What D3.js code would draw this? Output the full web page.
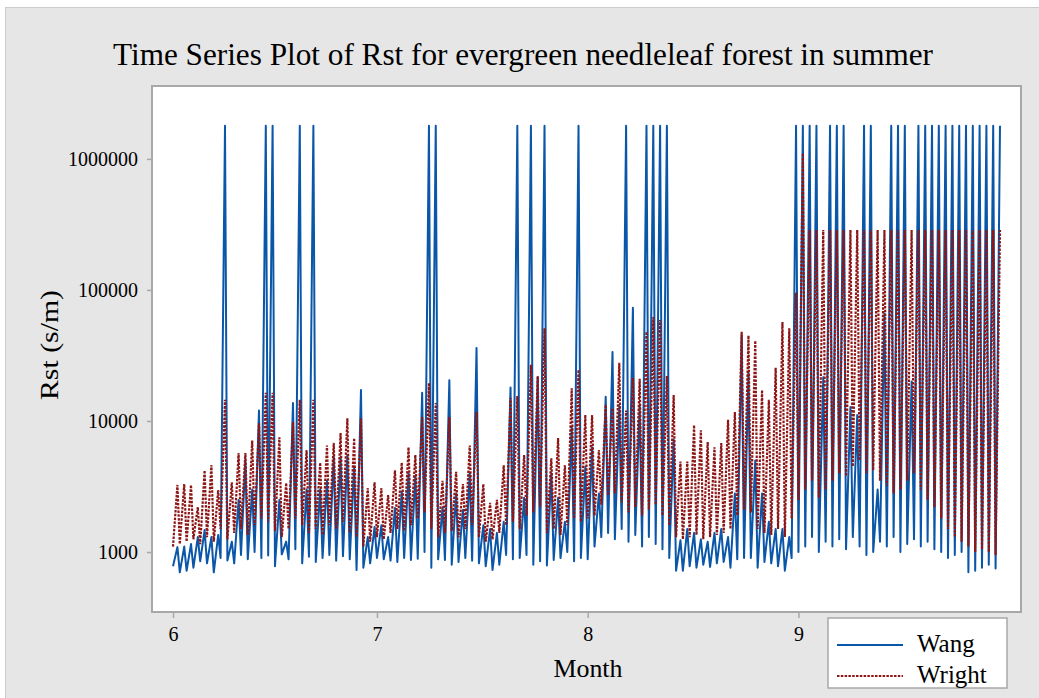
<!DOCTYPE html>
<html>
<head>
<meta charset="utf-8">
<script src="https://cdn.jsdelivr.net/npm/d3@7"></script>
<style>
  html, body { margin: 0; padding: 0; background: #ffffff; }
  svg { display: block; }
  text { font-family: "Liberation Serif", "Times New Roman", serif; fill: #000; }
</style>
</head>
<body>
<svg id="chart" width="1039" height="698"></svg>
<script>
// ---------------- data ----------------
const title = "Time Series Plot of Rst for evergreen needleleaf forest in summer";
const xLabel = "Month";
const yLabel = "Rst (s/m)";
const seriesNames = ["Wang", "Wright"];

// month boundaries in days since 1 June, and their labels
const monthTickDays = [0, 30, 61, 92];
const monthTickLabels = ["6", "7", "8", "9"];
const yTickValues = [1000, 10000, 100000, 1000000];

// one daytime minimum and one night-time maximum per day (122 days, Jun 1 – Sep 30)
const wangLow = [
  780, 700, 720, 760, 850, 820, 700, 900, 860, 820,
  950, 880, 1000, 900, 940, 780, 960, 880, 1050, 820,
  920, 840, 900, 950, 860, 930, 880, 730, 760, 820,
  900, 880, 860, 840, 900, 870, 890, 1000, 760, 880,
  870, 800, 840, 900, 860, 820, 780, 730, 800, 950,
  880, 900, 950, 800, 850, 790, 870, 900, 1000, 850,
  900, 880, 1100, 1300, 1400, 1250, 1500, 1200, 1350, 1100,
  1300, 1150, 1050, 900, 720, 720, 780, 760, 800, 770,
  820, 840, 760, 880, 900, 900, 760, 840, 820, 780,
  720, 900, 1000, 1100, 1300, 1000, 1200, 1100, 1250, 1050,
  1300, 1100, 950, 1000, 1200, 1100, 1300, 1000, 1150, 1250,
  1100, 1200, 1050, 1000, 900, 950, 1000, 700, 720, 760,
  800, 750
];
const wangPeak = [
  1090, 1100, 1150, 1300, 1470, 1300, 1350, 1790000, 1200, 2500,
  5000, 3000, 12000, 1790000, 1790000, 2500, 1200, 13700, 1790000, 3000,
  1790000, 3000, 3500, 5300, 5300, 5500, 4500, 17200, 1300, 1550,
  1600, 1300, 2170, 2900, 4000, 3800, 16400, 1790000, 1790000, 2200,
  20500, 2800, 2100, 4000, 36000, 1600, 1500, 1400, 1700, 18000,
  1790000, 2600, 1790000, 21600, 1790000, 4000, 2600, 1700, 9000, 1790000,
  4500, 6300, 2800, 15300, 33600, 13000, 1790000, 73000, 13000, 1790000,
  1790000, 1790000, 1790000, 7200, 1230, 1500, 1400, 1250, 1200, 1400,
  1500, 1300, 2800, 45000, 23300, 5000, 2800, 1700, 1500, 1500,
  1300, 1790000, 1790000, 1790000, 1790000, 21600, 1790000, 1790000, 1790000, 12800,
  11100, 1790000, 1790000, 3000, 66000, 1790000, 1790000, 1790000, 20000, 1790000,
  1790000, 1790000, 1790000, 1790000, 1790000, 1790000, 1790000, 1790000, 1790000, 1790000,
  1790000, 1790000
];
const wrightLow = [
  1100, 1150, 1200, 1250, 1150, 1300, 1200, 1500, 1250, 1400,
  1500, 1350, 1600, 1800, 1700, 1450, 1300, 1500, 1800, 1600,
  1400, 1500, 1350, 1600, 1500, 1700, 1400, 1300, 1100, 1200,
  1300, 1250, 1400, 1500, 1450, 1600, 1800, 2000, 1500, 1300,
  1400, 1450, 1300, 1500, 1600, 1300, 1200, 1250, 1400, 1600,
  1700, 1500, 1900, 2000, 2200, 1400, 1500, 1350, 1600, 1800,
  1700, 1800, 1900, 2300, 2700, 2800, 2400, 2000, 2200, 1900,
  2100, 2300, 1900, 1600, 1300, 1250, 1300, 1350, 1250, 1300,
  1350, 1400, 1500, 1900, 2100, 2000, 1500, 1400, 1350, 1500,
  1300, 1800, 2500, 3000, 3500, 2600, 3000, 3500, 4000, 3800,
  4500, 5000, 4000, 4200, 3500, 3200, 2800, 3000, 3500, 4000,
  3000, 2500, 2200, 1800, 1500, 1300, 1200, 1100, 1000, 1050,
  1000, 950
];
const wrightPeak = [
  3250, 3300, 3250, 2200, 4200, 4600, 2970, 14500, 3400, 5700,
  5700, 7100, 9600, 16400, 16400, 7500, 3360, 9800, 14500, 6000,
  14500, 4800, 6500, 6800, 8100, 10500, 7400, 10500, 3070, 3400,
  3070, 2720, 4200, 4800, 6300, 5500, 10700, 19500, 13700, 3500,
  10700, 4100, 3300, 6500, 11700, 3300, 2370, 2500, 4600, 15000,
  15500, 5500, 26800, 22000, 51000, 5200, 7400, 4600, 17800, 24500,
  11100, 11100, 6000, 13300, 12500, 27800, 12000, 21300, 21000, 48000,
  62000, 59000, 22000, 15800, 4900, 4900, 9300, 8500, 6900, 6300,
  6800, 10200, 11700, 48000, 45000, 41000, 17200, 14500, 25500, 57000,
  51000, 95000, 1100000, 287000, 287000, 287000, 287000, 287000, 287000, 287000,
  287000, 287000, 287000, 287000, 287000, 287000, 287000, 287000, 287000, 287000,
  287000, 287000, 287000, 287000, 287000, 287000, 287000, 287000, 287000, 287000,
  287000, 287000
];

// ---------------- layout ----------------
const W = 1039, H = 698;
const plot = { left: 152, top: 86, right: 1021, bottom: 612 };
const colors = { wang: "#0a56a8", wright: "#8e1616" };
const serif = "Liberation Serif, Times New Roman, serif";

const svg = d3.select("#chart");

// outer panel
svg.append("rect").attr("x", 5.5).attr("y", 7.5).attr("width", W).attr("height", H)
  .attr("fill", "#e6e6e6").attr("stroke", "#cbcbcb").attr("stroke-width", 1);

// plot area
svg.append("rect").attr("x", plot.left).attr("y", plot.top)
  .attr("width", plot.right - plot.left).attr("height", plot.bottom - plot.top)
  .attr("fill", "#ffffff");

// scales
const peakOffset = 0.65;
const x = d3.scaleLinear().domain([0, wangLow.length - 1 + peakOffset]).range([173, 1000]);
const y = d3.scaleLog().domain([348.6, 3.6e6]).range([plot.bottom, plot.top]);

function buildSeries(lows, peaks) {
  return lows.flatMap((lo, i) => [{ t: i, v: lo }, { t: i + peakOffset, v: peaks[i] }]);
}
const wangData = buildSeries(wangLow, wangPeak);
const wrightData = buildSeries(wrightLow, wrightPeak);

svg.append("clipPath").attr("id", "clip").append("rect")
  .attr("x", plot.left).attr("y", plot.top)
  .attr("width", plot.right - plot.left).attr("height", plot.bottom - plot.top);

const line = d3.line().x(d => x(d.t)).y(d => y(d.v));
const g = svg.append("g").attr("clip-path", "url(#clip)");
g.append("path").datum(wangData).attr("d", line)
  .attr("fill", "none").attr("stroke", colors.wang).attr("stroke-width", 2)
  .attr("stroke-linejoin", "round");
g.append("path").datum(wrightData).attr("d", line)
  .attr("fill", "none").attr("stroke", colors.wright).attr("stroke-width", 2.2)
  .attr("stroke-dasharray", "2.5,1.3");

// plot border
svg.append("rect").attr("x", plot.left).attr("y", plot.top)
  .attr("width", plot.right - plot.left).attr("height", plot.bottom - plot.top)
  .attr("fill", "none").attr("stroke", "#a8a8a8").attr("stroke-width", 2);

// axes
const yAxis = d3.axisLeft(y).tickValues(yTickValues).tickFormat(d3.format("d")).tickSize(4).tickPadding(9);
const yg = svg.append("g").attr("transform", `translate(${plot.left - 1},0)`).call(yAxis);
yg.select(".domain").remove();
yg.selectAll(".tick line").attr("stroke", "#a8a8a8").attr("stroke-width", 1.5);
yg.selectAll(".tick text").attr("font-size", 20).attr("font-family", serif).attr("fill", "#000");

const xAxis = d3.axisBottom(x).tickValues(monthTickDays).tickFormat((d, i) => monthTickLabels[i]).tickSize(5).tickPadding(9);
const xg = svg.append("g").attr("transform", `translate(0,${plot.bottom + 1})`).call(xAxis);
xg.select(".domain").remove();
xg.selectAll(".tick line").attr("stroke", "#a8a8a8").attr("stroke-width", 1.5);
xg.selectAll(".tick text").attr("font-size", 20).attr("font-family", serif).attr("fill", "#000");

// title and labels
svg.append("text").attr("x", 523).attr("y", 65).attr("text-anchor", "middle")
  .attr("font-size", 32).attr("textLength", 820).attr("lengthAdjust", "spacingAndGlyphs").text(title);
svg.append("text").attr("x", 588).attr("y", 677).attr("text-anchor", "middle")
  .attr("font-size", 26).attr("textLength", 69).attr("lengthAdjust", "spacingAndGlyphs").text(xLabel);
svg.append("text").attr("transform", "translate(58,345) rotate(-90)").attr("text-anchor", "middle")
  .attr("font-size", 26).attr("textLength", 110).attr("lengthAdjust", "spacingAndGlyphs").text(yLabel);

// legend
const lg = svg.append("g");
lg.append("rect").attr("x", 828).attr("y", 618).attr("width", 179).attr("height", 70)
  .attr("fill", "#ffffff").attr("stroke", "#a8a8a8").attr("stroke-width", 1.5);
lg.append("line").attr("x1", 837).attr("x2", 903).attr("y1", 645).attr("y2", 645)
  .attr("stroke", colors.wang).attr("stroke-width", 2);
lg.append("line").attr("x1", 837).attr("x2", 903).attr("y1", 676).attr("y2", 676)
  .attr("stroke", colors.wright).attr("stroke-width", 2).attr("stroke-dasharray", "2.5,1.3");
lg.append("text").attr("x", 917).attr("y", 652).attr("font-size", 25).text(seriesNames[0]);
lg.append("text").attr("x", 917).attr("y", 683).attr("font-size", 25).text(seriesNames[1]);
</script>
</body>
</html>
